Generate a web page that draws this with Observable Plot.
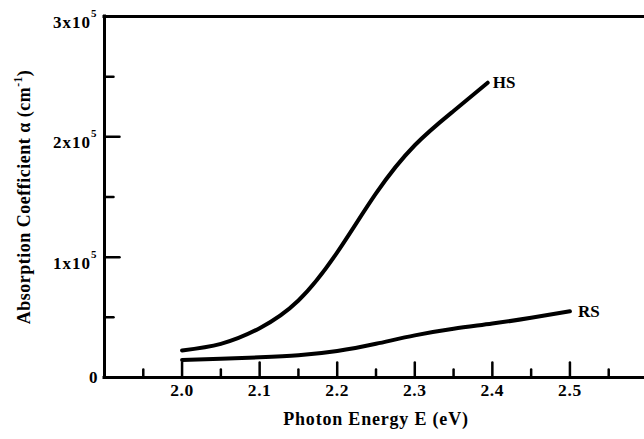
<!DOCTYPE html>
<html>
<head>
<meta charset="utf-8">
<script src="https://cdn.jsdelivr.net/npm/d3@7"></script>
<script src="https://cdn.jsdelivr.net/npm/@observablehq/plot@0.6"></script>
<style>
  html, body { margin: 0; padding: 0; background: #fff; }
  #chart svg { display: block; }
</style>
</head>
<body>
<div id="chart"></div>
<script>
// Absorption coefficient vs photon energy for the two samples
const hsEnergy = [2.00, 2.05, 2.10, 2.15, 2.20, 2.25, 2.30, 2.35, 2.394];
const hsAlpha  = [22500, 28000, 41000, 64000, 104000, 153000, 193000, 221500, 245000];
const rsEnergy = [2.00, 2.05, 2.10, 2.15, 2.20, 2.25, 2.30, 2.35, 2.40, 2.45, 2.50];
const rsAlpha  = [14500, 15500, 16800, 18500, 22000, 28000, 35000, 40500, 44800, 49600, 55000];

const seriesNames = ["HS", "RS"];

const xMajorTicks = [2.0, 2.1, 2.2, 2.3, 2.4, 2.5];
const xMinorTicks = [1.95, 2.05, 2.15, 2.25, 2.35, 2.45, 2.55];
const yMajorTicks = [0, 100000, 200000, 300000];
const yMinorTicks = [50000, 150000, 250000];
const yTickLabels = ["0", "1x10^5", "2x10^5", "3x10^5"];

const xTitle = "Photon Energy E (eV)";
const yTitle = "Absorption Coefficient α (cm^-1)";

const xDomain = [1.9, 2.6];
const yDomain = [0, 300000];

const hs = hsEnergy.map((e, i) => ({E: e, alpha: hsAlpha[i], series: seriesNames[0]}));
const rs = rsEnergy.map((e, i) => ({E: e, alpha: rsAlpha[i], series: seriesNames[1]}));
const ends = [hs[hs.length - 1], rs[rs.length - 1]];

// inward tick: a straight stroke from the anchor point
const tickShape = {draw(context, l) { context.moveTo(0, 0); context.lineTo(0, -l); }};

const font = "Liberation Serif, Times New Roman, serif";
const ink = "#000";

const chart = Plot.plot({
  width: 644,
  height: 439,
  marginLeft: 104,
  marginTop: 16,
  marginBottom: 62,
  marginRight: -3,
  style: {fontFamily: font, fontWeight: "bold", background: "#fff", color: ink},
  x: {domain: xDomain, axis: null},
  y: {domain: yDomain, axis: null},
  marks: [
    // frame lines
    Plot.ruleY([yDomain[0]], {stroke: ink, strokeWidth: 3, strokeLinecap: "square"}),
    Plot.ruleY([yDomain[1]], {stroke: ink, strokeWidth: 3, strokeLinecap: "square"}),
    Plot.ruleX([xDomain[0]], {stroke: ink, strokeWidth: 3, strokeLinecap: "square"}),
    // x ticks (pointing up into the plot)
    Plot.vector(xMajorTicks, {x: d => d, y: () => 0, length: 15, rotate: 0, anchor: "start", shape: tickShape, stroke: ink, strokeWidth: 2.5}),
    Plot.vector(xMinorTicks, {x: d => d, y: () => 0, length: 8, rotate: 0, anchor: "start", shape: tickShape, stroke: ink, strokeWidth: 2.5}),
    // y ticks (pointing right into the plot)
    Plot.vector(yMajorTicks, {x: () => xDomain[0], y: d => d, length: 15, rotate: 90, anchor: "start", shape: tickShape, stroke: ink, strokeWidth: 2.5}),
    Plot.vector(yMinorTicks, {x: () => xDomain[0], y: d => d, length: 9, rotate: 90, anchor: "start", shape: tickShape, stroke: ink, strokeWidth: 2.5}),
    // x tick labels
    Plot.text(xMajorTicks, {x: d => d, frameAnchor: "bottom", dy: 18, text: d => d3.format(".1f")(d), fontSize: 17.5, fontWeight: "bold", fill: ink, className: "wide-1"}),
    // y tick labels
    Plot.text(yMajorTicks.slice(0, 1), {y: d => d, frameAnchor: "left", dx: -7, textAnchor: "end", text: () => yTickLabels[0], fontSize: 17, fontWeight: "bold", fill: ink}),
    Plot.text(yMajorTicks.slice(1), {y: d => d, frameAnchor: "left", dx: -7, dy: 6, textAnchor: "end", text: (d, i) => yTickLabels[i + 1], fontSize: 17, fontWeight: "bold", fill: ink, className: "wide-2"}),
    // axis titles
    Plot.text([xTitle], {frameAnchor: "bottom", dy: 47, textAnchor: "middle", text: d => d, fontSize: 18, fontWeight: "bold", fill: ink, className: "wide-3"}),
    Plot.text([yTitle], {frameAnchor: "left", dx: -80, textAnchor: "middle", rotate: -90, text: d => d, fontSize: 18, fontWeight: "bold", fill: ink, className: "wide-4"}),
    // curves
    Plot.line(hs, {x: "E", y: "alpha", curve: "natural", stroke: ink, strokeWidth: 4, strokeLinecap: "round"}),
    Plot.line(rs, {x: "E", y: "alpha", curve: "natural", stroke: ink, strokeWidth: 4, strokeLinecap: "round"}),
    // series labels at the curve ends
    Plot.text(ends.slice(0, 1), {x: "E", y: "alpha", text: "series", textAnchor: "start", dx: 5, fontSize: 17, fontWeight: "bold", fill: ink}),
    Plot.text(ends.slice(1), {x: "E", y: "alpha", text: "series", textAnchor: "start", dx: 8, fontSize: 17, fontWeight: "bold", fill: ink})
  ]
});

// slightly looser letter spacing for the axis texts
d3.select(chart).selectAll(".wide-1 text").attr("letter-spacing", 0.6);
d3.select(chart).selectAll(".wide-2 text").attr("letter-spacing", 1);
d3.select(chart).selectAll(".wide-3 text").attr("letter-spacing", 0.8);
d3.select(chart).selectAll(".wide-4 text").attr("letter-spacing", 0.5);

// render "^" parts of labels as superscripts
d3.select(chart).selectAll("text").each(function () {
  const el = d3.select(this);
  const t = el.text();
  if (!t.includes("^")) return;
  const m = t.match(/^(.*?)\^([^)]*)(\)?)$/);
  if (!m) return;
  const isTitle = m[3] !== "";
  el.text(null);
  el.append("tspan").text(m[1]);
  el.append("tspan").attr("font-size", isTitle ? 11.5 : 11).attr("dy", isTitle ? -8 : -11).text(m[2]);
  if (isTitle) el.append("tspan").attr("dy", 8).text(m[3]);
});

document.getElementById("chart").appendChild(chart);
</script>
</body>
</html>
